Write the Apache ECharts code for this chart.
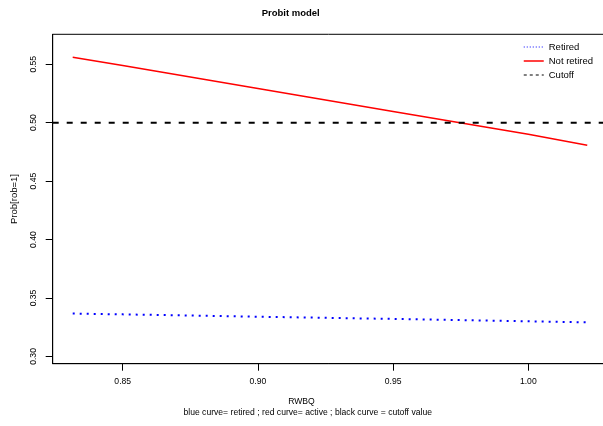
<!DOCTYPE html>
<html>
<head>
<meta charset="utf-8">
<script src="https://cdn.jsdelivr.net/npm/echarts@6/dist/echarts.min.js"></script>
<style>
  html, body { margin: 0; padding: 0; background: #fff; }
  #chart { width: 603px; height: 426px; }
</style>
</head>
<body>
<div id="chart"></div>
<script>
// RWBQ values where the fitted probabilities were evaluated
const rwbq = [0.8315, 0.85, 0.90, 0.95, 1.00, 1.0218];
// Fitted Prob[rob=1] for retired (blue) and not retired (red)
const probRetired = [0.3367, 0.3360, 0.3340, 0.3321, 0.3301, 0.3292];
const probNotRetired = [0.5560, 0.5490, 0.5293, 0.5096, 0.4900, 0.4807];
// Classification cutoff
const cutoff = 0.5;
// Axis ranges and tick labels
const xRange = [0.8241, 1.0294];
const yRange = [0.2938, 0.5756];
const xTicks = [0.85, 0.90, 0.95, 1.00];
const yTicks = [0.30, 0.35, 0.40, 0.45, 0.50, 0.55];

const FONT = '"Liberation Sans", Arial, Helvetica, sans-serif';
const SMALL = 8.6;

const pairs = (xs, ys) => xs.map((x, i) => [x, ys[i]]);

const chart = echarts.init(document.getElementById('chart'), null, { renderer: 'canvas' });

// legend keys show only the line, no marker
const noMarker = { color: 'rgba(0,0,0,0)', borderColor: 'rgba(0,0,0,0)', borderWidth: 0, opacity: 0 };

chart.setOption({
  animation: false,
  backgroundColor: '#ffffff',
  textStyle: { fontFamily: FONT },
  grid: {
    left: 52.7, top: 34.3, width: 555.1, height: 329.4,
    outerBoundsMode: 'none',
    show: true, borderColor: '#000', borderWidth: 1, containLabel: false
  },
  xAxis: {
    type: 'value', min: xRange[0], max: xRange[1],
    splitLine: { show: false },
    axisLine: { show: true, onZero: false, lineStyle: { color: '#000', width: 1 } },
    axisTick: { show: true, length: 7, lineStyle: { color: '#000' }, customValues: xTicks },
    axisLabel: {
      customValues: xTicks, margin: 13, fontSize: SMALL, color: '#000', fontFamily: FONT,
      formatter: v => v.toFixed(2)
    }
  },
  yAxis: {
    type: 'value', min: yRange[0], max: yRange[1],
    splitLine: { show: false },
    axisLine: { show: true, onZero: false, lineStyle: { color: '#000', width: 1 } },
    axisTick: { show: true, length: 7, lineStyle: { color: '#000' }, customValues: yTicks },
    axisLabel: {
      customValues: yTicks, rotate: 90, margin: 15, fontSize: SMALL, color: '#000', fontFamily: FONT,
      formatter: v => v.toFixed(2)
    }
  },
  legend: {
    orient: 'vertical', left: 518, top: 37,
    itemWidth: 20, itemHeight: 10, itemGap: 4,
    itemStyle: noMarker,
    textStyle: { fontSize: 9.5, color: '#000', fontFamily: FONT },
    data: [
      { name: 'Retired', itemStyle: noMarker, lineStyle: { width: 1, type: [1, 2], color: '#0000ff' } },
      { name: 'Not retired', itemStyle: noMarker, lineStyle: { width: 1.5, type: 'solid', color: '#ff0000' } },
      { name: 'Cutoff', itemStyle: noMarker, lineStyle: { width: 1, type: [3, 3], color: '#000' } }
    ]
  },
  title: [
    {
      text: 'Probit model', left: 285.7, top: 3, textAlign: 'center',
      textStyle: { fontSize: 9.5, fontWeight: 'bold', color: '#000', fontFamily: FONT }
    }
  ],
  graphic: [
    {
      type: 'text', style: {
        text: 'RWBQ', x: 301.5, y: 401.7, align: 'center', verticalAlign: 'middle',
        font: SMALL + 'px ' + FONT, fill: '#000'
      }
    },
    {
      type: 'text', style: {
        text: 'blue curve= retired ; red curve= active ; black curve = cutoff value',
        x: 307.7, y: 413, align: 'center', verticalAlign: 'middle',
        font: SMALL + 'px ' + FONT, fill: '#000'
      }
    },
    {
      type: 'text', rotation: Math.PI / 2, x: 14, y: 199, style: {
        text: 'Prob[rob=1]', x: 0, y: 0, align: 'center', verticalAlign: 'middle',
        font: '9.5px ' + FONT, fill: '#000'
      }
    }
  ],
  series: [
    {
      name: 'Retired', type: 'line', symbol: 'none', clip: true,
      data: pairs(rwbq, probRetired),
      lineStyle: { color: '#0000ff', width: 2, type: [2, 5] },
      itemStyle: { color: '#0000ff' }
    },
    {
      name: 'Not retired', type: 'line', symbol: 'none', clip: true,
      data: pairs(rwbq, probNotRetired),
      lineStyle: { color: '#ff0000', width: 1.5 },
      itemStyle: { color: '#ff0000' }
    },
    {
      name: 'Cutoff', type: 'line', symbol: 'none', clip: true,
      data: [[xRange[0], cutoff], [xRange[1], cutoff]],
      lineStyle: { color: '#000', width: 2, type: [6, 8] },
      itemStyle: { color: '#000' }
    }
  ]
});
</script>
</body>
</html>
